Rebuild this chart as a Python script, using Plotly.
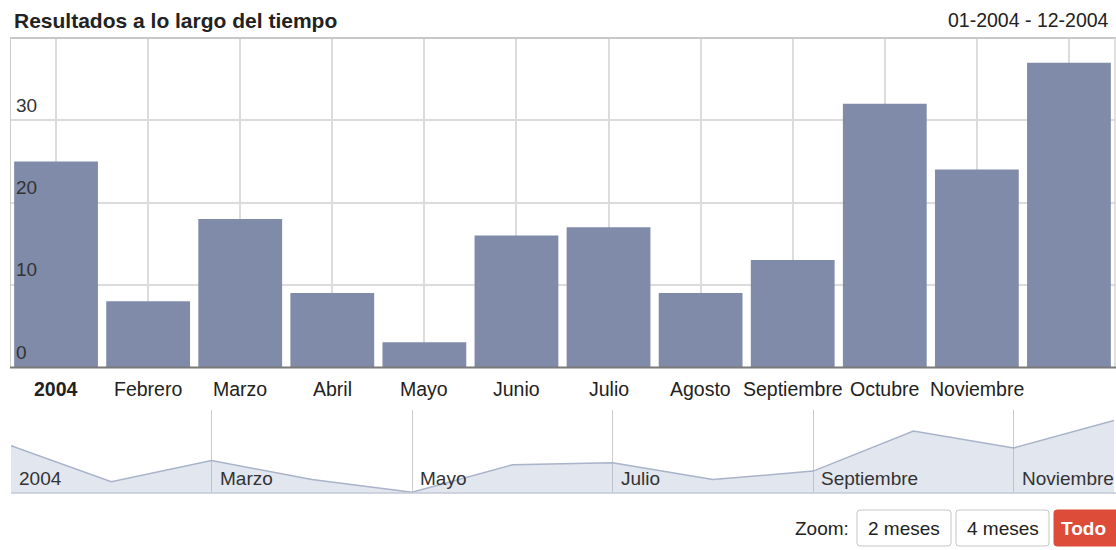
import plotly.graph_objects as go

# ---- data ----
months = ["Enero", "Febrero", "Marzo", "Abril", "Mayo", "Junio",
          "Julio", "Agosto", "Septiembre", "Octubre", "Noviembre", "Diciembre"]
values = [25, 8, 18, 9, 3, 16, 17, 9, 13, 32, 24, 37]
axis_labels = ["<b>2004</b>", "Febrero", "Marzo", "Abril", "Mayo", "Junio",
               "Julio", "Agosto", "Septiembre", "Octubre", "Noviembre", ""]
nav_months = ["Enero", "Marzo", "Mayo", "Julio", "Septiembre", "Noviembre"]
nav_labels = ["2004", "Marzo", "Mayo", "Julio", "Septiembre", "Noviembre"]
y_ticks = [0, 10, 20, 30]
title_text = "Resultados a lo largo del tiempo"
range_text = "01-2004 - 12-2004"
zoom_label = "Zoom:"
zoom_buttons = ["2 meses", "4 meses", "Todo"]

W, H = 1116, 550
FONT = "Liberation Sans, Arial, sans-serif"


def px(x):
    return x / W


def py(y):
    return 1 - y / H


fig = go.Figure()

fig.add_trace(go.Bar(
    x=months, y=values, marker=dict(color="#7f8ba8", line=dict(width=0)),
    xaxis="x", yaxis="y", hoverinfo="x+y", showlegend=False))

fig.add_trace(go.Scatter(
    x=months, y=values, mode="lines", fill="tozeroy",
    fillcolor="rgba(160,172,200,0.30)",
    line=dict(color="#a9b3c9", width=1.5),
    xaxis="x2", yaxis="y2", hoverinfo="skip", showlegend=False))

annotations = []
# header
annotations.append(dict(text="<b>" + title_text + "</b>", xref="paper", yref="paper",
                        x=px(12), y=py(20), xanchor="left", yanchor="middle",
                        showarrow=False, font=dict(size=21, color="#222", family=FONT)))
annotations.append(dict(text=range_text, xref="paper", yref="paper",
                        x=px(1111), y=py(20), xanchor="right", yanchor="middle",
                        showarrow=False, font=dict(size=19.5, color="#222", family=FONT)))
# y tick labels (inside, above grid lines)
for t in y_ticks:
    annotations.append(dict(text=str(t), xref="paper", yref="y", x=px(14), y=t,
                            xanchor="left", yanchor="middle", yshift=15,
                            showarrow=False, font=dict(size=19, color="#333", family=FONT)))
# x labels under bars
for m, lab in zip(months, axis_labels):
    if lab:
        annotations.append(dict(text=lab, xref="x", yref="paper", x=m, y=py(389),
                                xanchor="center", yanchor="middle", showarrow=False,
                                font=dict(size=19.5, color="#222", family=FONT)))
# navigator labels
for m, lab in zip(nav_months, nav_labels):
    annotations.append(dict(text=lab, xref="x2", yref="paper", x=m, y=py(479),
                            xanchor="left", yanchor="middle", xshift=6, showarrow=False,
                            font=dict(size=19, color="#333", family=FONT)))
# zoom controls
annotations.append(dict(text=zoom_label, xref="paper", yref="paper", x=px(851), y=py(528),
                        xanchor="right", yanchor="middle", showarrow=False,
                        font=dict(size=19, color="#222", family=FONT)))

boxes = [(857, 951), (956, 1049), (1054, 1122)]
shapes = []


def rrect(x0, y0, x1, y1, r=3):
    rx, ry = r / W, r / H
    X0, X1 = px(x0), px(x1)
    Y0, Y1 = py(y0), py(y1)  # Y0 top, Y1 bottom
    return (f"M {X0+rx},{Y0} L {X1-rx},{Y0} Q {X1},{Y0} {X1},{Y0-ry} "
            f"L {X1},{Y1+ry} Q {X1},{Y1} {X1-rx},{Y1} L {X0+rx},{Y1} "
            f"Q {X0},{Y1} {X0},{Y1+ry} L {X0},{Y0-ry} Q {X0},{Y0} {X0+rx},{Y0} Z")


for i, (lab, (bx0, bx1)) in enumerate(zip(zoom_buttons, boxes)):
    active = i == len(zoom_buttons) - 1
    shapes.append(dict(type="path", xref="paper", yref="paper",
                       path=rrect(bx0, 510, bx1, 546),
                       fillcolor="#dd4b39" if active else "#ffffff",
                       line=dict(color="#dd4b39" if active else "#c6c6c6", width=1)))
    cx = (bx0 + bx1) / 2 if not active else 1083
    annotations.append(dict(text=("<b>" + lab + "</b>") if active else lab,
                            xref="paper", yref="paper", x=px(cx),
                            y=py(528), xanchor="center", yanchor="middle", showarrow=False,
                            font=dict(size=19, color="#ffffff" if active else "#222",
                                      family=FONT)))

# plot frame
shapes += [
    dict(type="line", xref="paper", yref="paper", x0=px(10), x1=px(1116), y0=py(38), y1=py(38),
         line=dict(color="#c8c8c8", width=2)),
    dict(type="line", xref="paper", yref="paper", x0=px(10.5), x1=px(10.5), y0=py(38), y1=py(367),
         line=dict(color="#cccccc", width=1)),
    dict(type="line", xref="paper", yref="paper", x0=px(1115), x1=px(1115), y0=py(38), y1=py(367),
         line=dict(color="#d4d4d4", width=1.5)),
    dict(type="line", xref="paper", yref="paper", x0=px(10), x1=px(1116), y0=py(367.5), y1=py(367.5),
         line=dict(color="#7a7a7a", width=2)),
    dict(type="line", xref="paper", yref="paper", x0=px(11), x1=px(1116), y0=py(493), y1=py(493),
         line=dict(color="#c3c9d6", width=1.5)),
]

fig.update_layout(
    width=W, height=H,
    margin=dict(l=0, r=0, t=0, b=0),
    paper_bgcolor="white", plot_bgcolor="white",
    bargap=0.09,
    font=dict(family=FONT, size=19, color="#222"),
    xaxis=dict(domain=[px(10), px(1115)], type="category", range=[-0.5, 11.5],
               showgrid=True, gridcolor="#dcdcdc", gridwidth=1.5,
               showticklabels=False, ticks="", zeroline=False, showline=False,
               fixedrange=True),
    yaxis=dict(domain=[py(367), py(38)], range=[0, 40], tickvals=y_ticks[1:],
               showgrid=True, gridcolor="#dcdcdc", gridwidth=1.5,
               showticklabels=False, ticks="", zeroline=False, showline=False,
               fixedrange=True),
    xaxis2=dict(domain=[px(11), px(1114)], type="category", range=[0, 11],
                anchor="y2", tickvals=nav_months,
                showgrid=True, gridcolor="#cccccc", gridwidth=1,
                showticklabels=False, ticks="", zeroline=False, showline=False,
                fixedrange=True),
    yaxis2=dict(domain=[py(493), py(410)], range=[2.6, 42], anchor="x2",
                showgrid=False, showticklabels=False, ticks="", zeroline=False,
                showline=False, fixedrange=True),
    annotations=annotations,
    shapes=shapes,
)

fig.write_html("out.html", config={"displayModeBar": False},
               post_script="document.body.style.margin='0';document.body.style.overflow='hidden';")
